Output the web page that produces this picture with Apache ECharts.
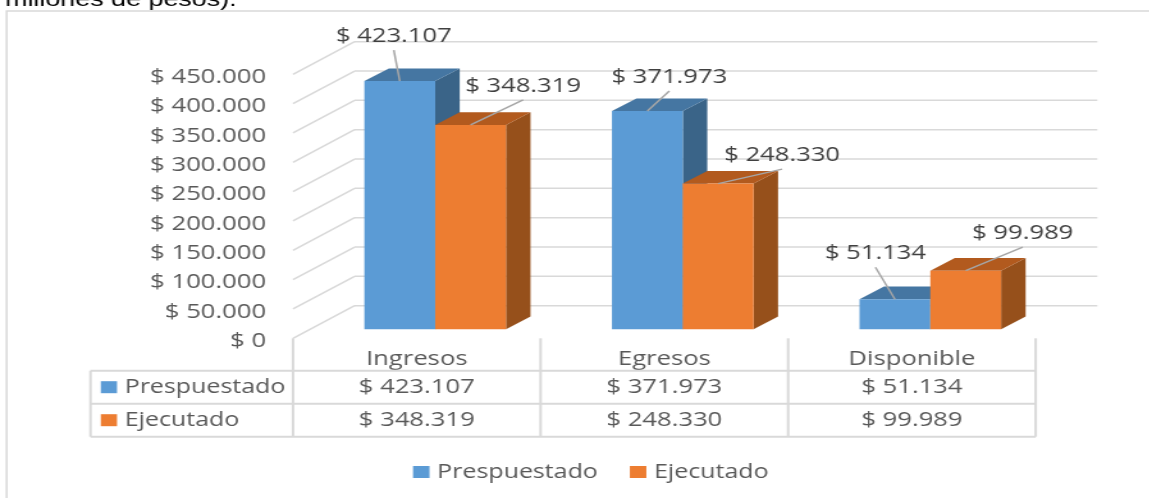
<!DOCTYPE html>
<html>
<head>
<meta charset="utf-8">
<script src="https://cdn.jsdelivr.net/npm/echarts@6/dist/echarts.min.js"></script>
<style>
  html, body { margin: 0; padding: 0; background: #fff; overflow: hidden; }
  /* the reference is stretched sideways, so the whole chart is too */
  #chart { height: 498px; transform-origin: 0 0; }
</style>
</head>
<body>
<div id="chart"></div>
<script>
const categories = ['Ingresos', 'Egresos', 'Disponible'];
const presupuestado = [423107, 371973, 51134];
const ejecutado = [348319, 248330, 99989];
const yTicks = [0, 50000, 100000, 150000, 200000, 250000, 300000, 350000, 400000, 450000];
const seriesNames = ['Prespuestado', 'Ejecutado'];

// horizontal stretch; all x values below are reference pixels divided by this
const S = 1.28;
const sx = v => v / S;

const FONT = '20px "Open Sans"';
const TEXT = '#595959';
const LABEL = '#404040';
const LINE = '#D9D9D9';
const LEADER = '#A6A6A6';

// 3d look: wall depth, floor gap in front of the bars, depth of one bar
const wallDx = sx(61.6), wallDy = 32.6;
const floorDx = sx(18.4), floorDy = 9;
const barDx = sx(24.5), barDy = 12.7;
const barW = sx(70.8);

// label offset from the middle of the bar's top front edge
const labelOffsets = [
  [[-6, -46], [22, -35], [-19.5, -47]],
  [[52.5, -40], [64, -29.5], [57, -38.5]]
];
const barColors = [
  { front: '#5B9BD5', top: '#4576A2', side: '#3A6488' },
  { front: '#ED7D31', top: '#B25A1E', side: '#96501B' }
];

// table rows (y in pixels)
const rowY = [370.7, 403.7, 436.7];
const tableLeft = sx(90.5);

function money(v) {
  return '$ ' + String(v).replace(/\B(?=(\d{3})+$)/g, '.');
}

function poly(points, fill) {
  return { type: 'polygon', shape: { points }, style: { fill } };
}

function line(x1, y1, x2, y2, stroke, lineWidth) {
  return { type: 'line', shape: { x1, y1, x2, y2 }, style: { stroke, lineWidth: lineWidth || 1.5 } };
}

function text(x, y, str, fill, align, font) {
  return { type: 'text', style: { x, y, text: str, fill: fill, font: font || FONT, align: align || 'center', verticalAlign: 'middle' } };
}

function renderBar(s, params, api) {
  const i = api.value(0);
  const top = api.coord([i, api.value(1)]);
  const base = api.coord([i, 0]);
  const c = barColors[s];
  const x0 = top[0] + floorDx + (s === 0 ? -barW : 0);
  const x1 = x0 + barW;
  const y0 = top[1] - floorDy;
  const y1 = base[1] - floorDy;
  const mid = (x0 + x1) / 2;
  const off = labelOffsets[s][i];
  return {
    type: 'group',
    children: [
      poly([[x1, y0], [x1 + barDx, y0 - barDy], [x1 + barDx, y1 - barDy], [x1, y1]], c.side),
      poly([[x0, y0], [x0 + barDx, y0 - barDy], [x1 + barDx, y0 - barDy], [x1, y0]], c.top),
      { type: 'rect', shape: { x: x0, y: y0, width: barW, height: y1 - y0 }, style: { fill: c.front } },
      line(mid + sx(off[0]), y0 + off[1] + 15, mid, y0, LEADER),
      text(mid + sx(off[0]), y0 + off[1] + 1, money(api.value(1)), LABEL)
    ]
  };
}

// gridlines on the side wall and the back wall
function renderWall(params, api) {
  const cs = params.coordSys;
  const y = api.coord([0, api.value(1)])[1];
  return {
    type: 'group',
    children: [
      line(cs.x, y, cs.x + wallDx, y - wallDy, LINE),
      line(cs.x + wallDx, y - wallDy, cs.x + cs.width + wallDx, y - wallDy, LINE)
    ]
  };
}

// one column of the data table
function renderColumn(params, api) {
  const i = api.value(0);
  const cx = api.coord([i, 0])[0];
  const baseY = api.coord([i, 0])[1];
  const w = api.size([1, 0])[0];
  const xr = cx + w / 2;
  const children = [
    line(xr, baseY, xr, rowY[2], LINE, 2),
    text(cx, (rowY[0] + rowY[1]) / 2 + 0.5, money(presupuestado[i]), TEXT),
    text(cx, (rowY[1] + rowY[2]) / 2 + 0.5, money(ejecutado[i]), TEXT)
  ];
  return { type: 'group', children };
}

// left part of the table and its horizontal rules
function renderFrame(params) {
  const cs = params.coordSys;
  const right = cs.x + cs.width;
  const children = [
    line(cs.x, cs.y + cs.height, cs.x, rowY[2], LINE, 2),
    line(tableLeft, rowY[0], tableLeft, rowY[2], LINE, 2)
  ];
  rowY.forEach(y => children.push(line(tableLeft, y, right, y, LINE, 2)));
  seriesNames.forEach((name, r) => {
    const y = (rowY[r] + rowY[r + 1]) / 2;
    children.push({
      type: 'rect',
      shape: { x: sx(100.8), y: y - 6, width: sx(16.2), height: 12 },
      style: { fill: barColors[r].front }
    });
    children.push(text(sx(124.7), y, name, TEXT, 'left', '19.5px "Open Sans"'));
  });
  return { type: 'group', children };
}

const dom = document.getElementById('chart');
dom.style.width = (1150 / S) + 'px';
dom.style.transform = 'scaleX(' + S + ')';

const option = {
  animation: false,
  backgroundColor: '#fff',
  grid: { left: sx(293), width: sx(742.7), top: 74.3, height: 264 },
  xAxis: {
    type: 'category',
    data: categories,
    axisLine: { show: false },
    axisTick: { show: false },
    axisLabel: { margin: 11, color: TEXT, fontFamily: 'Open Sans', fontSize: 20 }
  },
  yAxis: {
    type: 'value',
    min: 0,
    max: 450000,
    interval: 50000,
    axisLine: { show: false },
    axisTick: { show: false },
    splitLine: { show: false },
    axisLabel: {
      margin: sx(27),
      color: TEXT,
      fontFamily: 'Open Sans',
      fontSize: 20,
      verticalAlign: 'top',
      lineHeight: 6,
      formatter: v => money(v)
    }
  },
  legend: {
    data: seriesNames,
    left: sx(413),
    top: 462,
    padding: 0,
    icon: 'rect',
    itemWidth: sx(16.5),
    itemHeight: 12,
    itemGap: sx(32),
    selectedMode: false,
    textStyle: { color: TEXT, fontFamily: 'Open Sans', fontSize: 19.5, padding: [0, 0, 0, 1] }
  },
  graphic: [
    {
      type: 'rect',
      shape: { x: sx(6.6), y: 11, width: 1000, height: 600 },
      style: { fill: 'none', stroke: LINE, lineWidth: 1.5 },
      z: -1
    },
    {
      type: 'text',
      x: sx(5),
      y: -10,
      style: { text: 'millones de pesos).', fill: '#000', font: '21px "Liberation Sans"' }
    }
  ],
  series: [
    {
      type: 'custom',
      name: 'paredes',
      z: 1,
      clip: false,
      renderItem: renderWall,
      data: yTicks.map(v => [0, v])
    },
    {
      type: 'custom',
      name: 'tabla',
      z: 1,
      clip: false,
      renderItem: renderFrame,
      data: [[0, 0]]
    },
    {
      type: 'custom',
      name: 'columnas',
      z: 1,
      clip: false,
      renderItem: renderColumn,
      data: categories.map((c, i) => [i, 0])
    },
    {
      type: 'custom',
      name: seriesNames[0],
      z: 2,
      clip: false,
      itemStyle: { color: barColors[0].front },
      renderItem: (params, api) => renderBar(0, params, api),
      data: presupuestado.map((v, i) => [i, v])
    },
    {
      type: 'custom',
      name: seriesNames[1],
      z: 3,
      clip: false,
      itemStyle: { color: barColors[1].front },
      renderItem: (params, api) => renderBar(1, params, api),
      data: ejecutado.map((v, i) => [i, v])
    }
  ]
};

const chart = echarts.init(dom);
chart.setOption(option);
</script>
</body>
</html>
